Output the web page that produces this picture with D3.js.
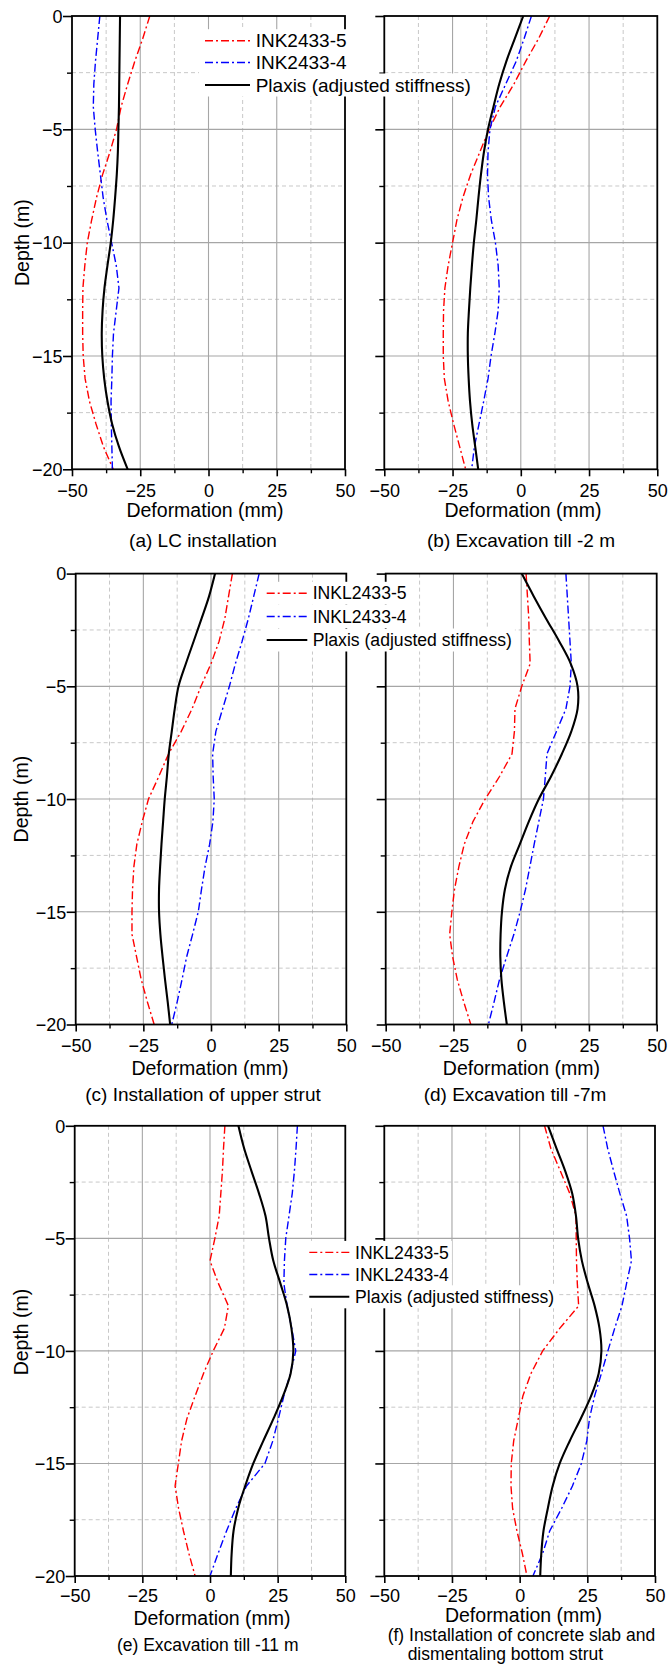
<!DOCTYPE html>
<html><head><meta charset="utf-8">
<script src="https://cdn.jsdelivr.net/npm/d3@7"></script>
<style>
body{margin:0;background:#fff}
svg{display:block}
text{font-family:"Liberation Sans",Arial,Helvetica,sans-serif;fill:#000}
</style>
</head><body>
<svg id="chart" width="668" height="1666"></svg>
<script>
// ---------- DATA ----------
const depth = [0,-1,-2,-3,-4,-5,-6,-7,-8,-9,-10,-11,-12,-13,-14,-15,-16,-17,-18,-19,-20];

const aRed   = [-21.5,-24.1,-27,-29.6,-32,-33.7,-36.1,-38.8,-41,-42.8,-44.4,-45.3,-46,-46.1,-46.1,-45.9,-45.2,-43.6,-41.2,-38.5,-34.9];
const aBlue  = [-39.8,-40.6,-41.4,-42,-42.2,-41.5,-40.6,-39.6,-38.6,-37.2,-35.5,-33.8,-32.8,-33.8,-34.8,-35.2,-35.4,-35.7,-35.6,-35.4,-35.2];
const aBlack = [-32.4,-32.5,-32.6,-32.7,-32.8,-33,-33.2,-33.6,-34.2,-34.9,-35.8,-37,-38.1,-38.8,-39.1,-38.9,-38.2,-37,-35.3,-32.8,-29.6];

const bRed   = [10.6,6.5,1.8,-2.5,-7.5,-11.6,-15,-18.4,-21.2,-23.4,-25,-26.6,-27.8,-28.3,-28.4,-28.4,-28,-26.6,-24.6,-22.4,-20.2];
const bBlue  = [3.9,1.2,-1.7,-5.5,-9.3,-11.3,-12,-12.2,-11.8,-10.8,-9.3,-8.3,-7.9,-8.3,-9.5,-10.9,-12,-13.6,-15.3,-17,-18];
const bBlack = [0.9,-2.2,-5.3,-7.9,-10,-12,-13.5,-14.6,-15.5,-16.3,-17.2,-17.9,-18.5,-19,-19.4,-19.4,-19.1,-18.6,-17.8,-16.7,-15.6];

const cRed   = [7.9,6.5,5.1,3,0,-3.7,-7,-11,-15.7,-19.3,-23.1,-25.4,-27.4,-28.5,-29,-29.2,-29.2,-27.5,-25.8,-23.5,-21];
const cBlue  = [17.8,15.8,13.8,11.5,9,6.8,4.3,1.8,0.6,0.8,1.2,0.7,-0.5,-2.2,-3.5,-4.7,-6.8,-9,-10.7,-12.5,-14.5];
const cBlack = [1.5,-0.7,-3.5,-6.4,-9.3,-12,-13.4,-14.5,-15.6,-16.3,-17.1,-17.7,-18.3,-18.8,-19.2,-19.2,-18.7,-17.9,-17,-16,-15.1];

const dRed   = [1.8,2.3,2.8,3,3.3,0.2,-2.3,-2.5,-3.4,-8,-13.3,-17.8,-21,-23,-24.6,-25.6,-26.4,-25.3,-23.6,-21.2,-18.6];
const dBlue  = [16.5,17,17.5,18,18.5,18,16.5,13,9.5,8.9,8.2,6.5,4.8,3.2,1.6,-0.4,-2.7,-5.4,-8,-10,-12.1];
const dBlack = [0.2,4.6,9.2,14,18.3,20.8,20.8,18.5,15,11,6.5,2.8,-0.5,-3.8,-6,-7.1,-7.6,-7.7,-7.3,-6.4,-5.3];

const eRed   = [5.5,5,4.6,4,3.4,1.8,0,3.1,6.8,5.3,1.2,-2.4,-5.5,-8.5,-10.5,-11.7,-12.9,-11.6,-9.8,-7.8,-5.5];
const eBlue  = [32.3,31.8,31.2,30.4,29.2,28,27.5,27.3,28.5,30.2,31.7,29.7,27.3,25.3,23.2,20.3,13.5,9.5,6.1,3,0];
const eBlack = [10.5,12.6,15.3,18.1,20.5,21.8,23.4,26,28.5,30.1,30.8,29.8,27,23.5,19.7,16,13,10.4,8.7,8,7.7];

const fRed   = [9.2,11.5,15,18.5,20.8,20.9,21,21.3,21.8,14.8,8.5,4.2,1.2,-0.5,-2.2,-3.1,-3.2,-2.6,-1,1,2.7];
const fBlue  = [30.8,32.5,34.7,37,39.5,40.6,41.3,39.5,37.8,35.1,32.6,30.2,27.7,25.8,24.8,22.8,19.5,15.5,11.1,8.5,4.9];
const fBlack = [10.5,13.6,16.8,19.4,20.8,21.6,23,25.2,27.7,29.5,30.2,29.2,26.4,22.6,18.5,14.8,12.2,10.4,8.8,8,7.6];

const xTicks = [-50,-25,0,25,50];
const xMinorTicks = [-37.5,-12.5,12.5,37.5];
const yTicks = [0,-5,-10,-15,-20];
const yMinorTicks = [-2.5,-7.5,-12.5,-17.5];
const xGridMajor = [-25,0,25];
const yGridMajor = [-5,-10,-15];

const xTitle = "Deformation (mm)";
const yTitle = "Depth (m)";
const captions = [
  ["(a) LC installation"],
  ["(b) Excavation till -2 m"],
  ["(c) Installation of upper strut"],
  ["(d) Excavation till -7m"],
  ["(e) Excavation till -11 m"],
  ["(f) Installation of concrete slab and", "dismentaling bottom strut"]
];
const legendLabelsTop = ["INK2433-5","INK2433-4","Plaxis (adjusted stiffness)"];
const legendLabelsLow = ["INKL2433-5","INKL2433-4","Plaxis (adjusted stiffness)"];

// ---------- LAYOUT ----------
const panels = [
  {red:aRed,blue:aBlue,black:aBlack, x0:72,   x1:345,   y0:16,    y1:469.3, yLab:true,  depthX:29, tickDy:27.7, titleX:205,   titleDy:47.7, capX:[203],   capDy:[78], capFs:19},
  {red:bRed,blue:bBlue,black:bBlack, x0:384.3,x1:657.3, y0:16,    y1:469.3, yLab:false, tickDy:27.7, titleX:523,   titleDy:47.7, capX:[521],   capDy:[78], capFs:19},
  {red:cRed,blue:cBlue,black:cBlack, x0:75.7, x1:346.3, y0:573.6, y1:1024.5,yLab:true,  depthX:28, tickDy:27.5, titleX:210,   titleDy:50.5, capX:[203],   capDy:[76], capFs:19},
  {red:dRed,blue:dBlue,black:dBlack, x0:385.7,x1:656.7, y0:573.6, y1:1024.5,yLab:false, tickDy:27.5, titleX:521.4, titleDy:50.5, capX:[515],   capDy:[76], capFs:19},
  {red:eRed,blue:eBlue,black:eBlack, x0:74.7, x1:345.3, y0:1125.8,y1:1576,  yLab:true,  depthX:28, depthY:1332, tickDy:25.7, titleX:212, titleDy:48.5, capX:[207.7], capDy:[74.5], capFs:17.5},
  {red:fRed,blue:fBlue,black:fBlack, x0:384.3,x1:655,   y0:1125.8,y1:1576,  yLab:false, tickDy:25.7, titleX:523.5, titleDy:46.3, capX:[521.4,505.4], capDy:[64.5,83.5], capFs:17.5}
];
const legends = [
  {labels:legendLabelsTop, fs:19,   lx0:205,   lx1:250,   tx:255.7, rows:[40.7,62.5,85]},
  {labels:legendLabelsLow, fs:17.6, lx0:266.7, lx1:307.3, tx:312.7, rows:[593.3,616.5,640]},
  {labels:legendLabelsLow, fs:17.6, lx0:309.3, lx1:349.3, tx:355,   rows:[1252.4,1274.5,1296.8]}
];

const RED = "#ff0000", BLUE = "#0000ff", BLACK = "#000000";
const DASHDOT = "8,3,2,3";
const FONT_TICK = 18, FONT_TITLE = 19.5;

const svg = d3.select("#chart");

panels.forEach((p, i) => {
  const g = svg.append("g");
  const x = d3.scaleLinear().domain([-50,50]).range([p.x0,p.x1]);
  const y = d3.scaleLinear().domain([0,-20]).range([p.y0,p.y1]);

  // minor grid (dashed)
  g.selectAll(".gxm").data(xMinorTicks).join("line")
    .attr("x1",d=>x(d)).attr("x2",d=>x(d)).attr("y1",p.y0).attr("y2",p.y1)
    .attr("stroke","#c8c8c8").attr("stroke-width",1).attr("stroke-dasharray","4,3");
  g.selectAll(".gym").data(yMinorTicks).join("line")
    .attr("y1",d=>y(d)).attr("y2",d=>y(d)).attr("x1",p.x0).attr("x2",p.x1)
    .attr("stroke","#c8c8c8").attr("stroke-width",1).attr("stroke-dasharray","4,3");
  // major grid (solid)
  g.selectAll(".gx").data(xGridMajor).join("line")
    .attr("x1",d=>x(d)).attr("x2",d=>x(d)).attr("y1",p.y0).attr("y2",p.y1)
    .attr("stroke","#a6a6a6").attr("stroke-width",1.1);
  g.selectAll(".gy").data(yGridMajor).join("line")
    .attr("y1",d=>y(d)).attr("y2",d=>y(d)).attr("x1",p.x0).attr("x2",p.x1)
    .attr("stroke","#a6a6a6").attr("stroke-width",1.1);

  // series
  const lin = d3.line().x(d=>x(d[0])).y(d=>y(d[1]));
  const smooth = d3.line().x(d=>x(d[0])).y(d=>y(d[1])).curve(d3.curveCatmullRom.alpha(0.5));
  const pts = arr => arr.map((v,k)=>[v, depth[k]]);
  g.append("path").attr("d", lin(pts(p.red))).attr("fill","none")
    .attr("stroke",RED).attr("stroke-width",1.4).attr("stroke-dasharray",DASHDOT);
  g.append("path").attr("d", lin(pts(p.blue))).attr("fill","none")
    .attr("stroke",BLUE).attr("stroke-width",1.4).attr("stroke-dasharray",DASHDOT);
  g.append("path").attr("d", smooth(pts(p.black))).attr("fill","none")
    .attr("stroke",BLACK).attr("stroke-width",2.1);

  // frame
  g.append("rect").attr("x",p.x0).attr("y",p.y0).attr("width",p.x1-p.x0).attr("height",p.y1-p.y0)
    .attr("fill","none").attr("stroke","#000").attr("stroke-width",1.8);

  // bottom axis
  const ax = g.append("g").attr("transform",`translate(0,${p.y1})`)
    .call(d3.axisBottom(x).tickValues(xTicks).tickSize(7).tickFormat(d3.format("d")));
  ax.select(".domain").remove();
  ax.selectAll(".tick line").attr("stroke","#000").attr("stroke-width",1.6);
  ax.selectAll(".tick text").attr("y",p.tickDy).attr("dy",0)
    .style("font-size",FONT_TICK+"px").style("font-family","'Liberation Sans',Arial,sans-serif");
  const axm = g.append("g").attr("transform",`translate(0,${p.y1})`)
    .call(d3.axisBottom(x).tickValues(xMinorTicks).tickSize(4).tickFormat(""));
  axm.select(".domain").remove();
  axm.selectAll(".tick line").attr("stroke","#000").attr("stroke-width",1.4);

  // left axis
  const ay = g.append("g").attr("transform",`translate(${p.x0},0)`)
    .call(d3.axisLeft(y).tickValues(yTicks).tickSize(9).tickFormat(p.yLab ? d3.format("d") : ""));
  ay.select(".domain").remove();
  ay.selectAll(".tick line").attr("stroke","#000").attr("stroke-width",1.6);
  ay.selectAll(".tick text").attr("x",-9.5).attr("dy","0.35em")
    .style("font-size",FONT_TICK+"px").style("font-family","'Liberation Sans',Arial,sans-serif");
  const aym = g.append("g").attr("transform",`translate(${p.x0},0)`)
    .call(d3.axisLeft(y).tickValues(yMinorTicks).tickSize(5).tickFormat(""));
  aym.select(".domain").remove();
  aym.selectAll(".tick line").attr("stroke","#000").attr("stroke-width",1.4);

  // titles
  g.append("text").attr("x",p.titleX).attr("y",p.y1+p.titleDy).attr("text-anchor","middle")
    .style("font-size",FONT_TITLE+"px").text(xTitle);
  if (p.yLab) {
    const cy = p.depthY !== undefined ? p.depthY : (p.y0+p.y1)/2;
    g.append("text").attr("transform",`translate(${p.depthX},${cy}) rotate(-90)`)
      .attr("text-anchor","middle").style("font-size",FONT_TITLE+"px").text(yTitle);
  }
  captions[i].forEach((c,k)=>{
    g.append("text").attr("x",p.capX[k]).attr("y",p.y1+p.capDy[k]).attr("text-anchor","middle")
      .style("font-size",p.capFs+"px").text(c);
  });
});

// legends on top
const styles = [
  {stroke:RED, w:1.4, dash:DASHDOT},
  {stroke:BLUE, w:1.4, dash:DASHDOT},
  {stroke:BLACK, w:2.1, dash:null}
];
legends.forEach(L=>{
  const g = svg.append("g");
  L.labels.forEach((lab,k)=>{
    const cy = L.rows[k];
    const bg = g.append("rect").attr("fill","#fff");
    const t = g.append("text").attr("x",L.tx).attr("y",cy).attr("dy","0.35em")
      .style("font-size",L.fs+"px").text(lab);
    const w = t.node().getComputedTextLength();
    bg.attr("x",L.lx0-6).attr("y",cy-11.5).attr("width",(L.tx+w+3)-(L.lx0-6)).attr("height",23);
    const ln = g.append("line").attr("x1",L.lx0).attr("x2",L.lx1).attr("y1",cy).attr("y2",cy)
      .attr("stroke",styles[k].stroke).attr("stroke-width",styles[k].w);
    if (styles[k].dash) ln.attr("stroke-dasharray",styles[k].dash);
  });
});
</script>
</body></html>
